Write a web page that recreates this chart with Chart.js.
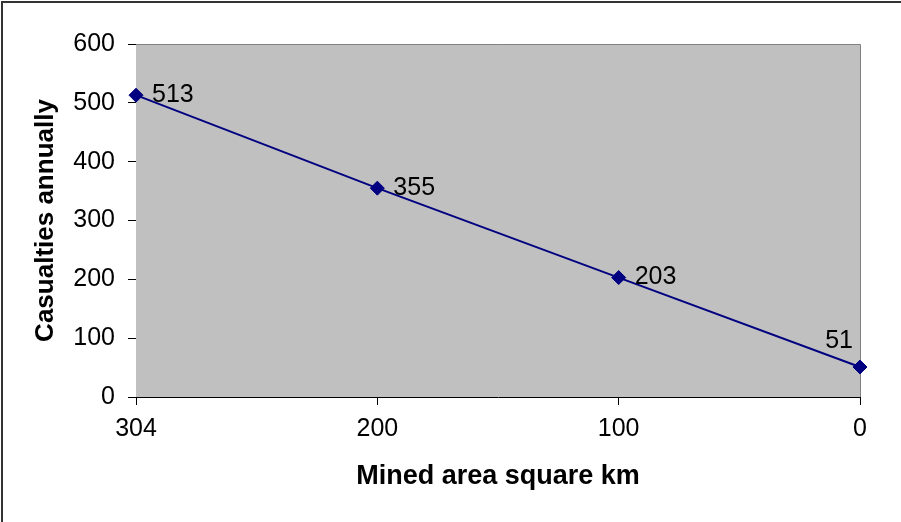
<!DOCTYPE html>
<html>
<head>
<meta charset="utf-8">
<script src="https://cdn.jsdelivr.net/npm/chart.js@4"></script>
<style>
  body { margin: 0; background: #fff; }
  #wrap { width: 901px; height: 522px; position: relative; }
</style>
</head>
<body>
<div id="wrap"><canvas id="chart" width="901" height="522"></canvas></div>
<script>
let areaLabels = ["304", "200", "100", "0"];
let casualties = [513, 355, 203, 51];
let yTicks = [0, 100, 200, 300, 400, 500, 600];

let navy = "#000080";
let plotGrey = "#C0C0C0";
let fontFamily = "'Liberation Sans', Arial, sans-serif";

// grey plot area + gray right edge + outer frame
let plotBackground = {
    id: "plotBackground",
    beforeDatasetsDraw(chart) {
        let ctx = chart.ctx;
        let a = chart.chartArea;
        ctx.save();
        ctx.fillStyle = plotGrey;
        ctx.fillRect(a.left, a.top, a.right - a.left, a.bottom - a.top);
        ctx.strokeStyle = "#808080";
        ctx.lineWidth = 1;
        ctx.beginPath();
        ctx.moveTo(a.left, a.top + 0.5);
        ctx.lineTo(a.right + 0.5, a.top + 0.5);
        ctx.lineTo(a.right + 0.5, a.bottom);
        ctx.stroke();
        ctx.restore();
    },
    afterDraw(chart) {
        let ctx = chart.ctx;
        ctx.save();
        ctx.fillStyle = "#333333";
        ctx.fillRect(1, 1, chart.width, 2);
        ctx.fillRect(1, 1, 2, chart.height);
        ctx.restore();
    }
};

// value labels next to each point
let valueLabels = {
    id: "valueLabels",
    afterDatasetsDraw(chart) {
        let ctx = chart.ctx;
        let meta = chart.getDatasetMeta(0);
        ctx.save();
        ctx.font = "25px " + fontFamily;
        ctx.fillStyle = "#000";
        ctx.textBaseline = "middle";
        meta.data.forEach((pt, i) => {
            let text = String(casualties[i]);
            if (i == meta.data.length - 1) {
                ctx.textAlign = "right";
                ctx.fillText(text, pt.x - 7, pt.y - 26);
            } else {
                ctx.textAlign = "left";
                ctx.fillText(text, pt.x + 16, pt.y);
            }
        });
        ctx.restore();
    }
};

new Chart(document.getElementById("chart"), {
    type: "line",
    data: {
        labels: areaLabels,
        datasets: [{
            label: "Casualties",
            data: casualties,
            borderColor: navy,
            backgroundColor: navy,
            borderWidth: 2,
            pointStyle: "rectRot",
            pointRadius: 7,
            pointBorderWidth: 1,
            pointBackgroundColor: navy,
            pointBorderColor: navy,
            tension: 0
        }]
    },
    options: {
        responsive: false,
        animation: false,
        devicePixelRatio: 1,
        layout: { padding: { top: 44, right: 41, left: 0, bottom: 0 } },
        plugins: {
            legend: { display: false },
            tooltip: { enabled: false }
        },
        scales: {
            x: {
                offset: false,
                grid: { drawOnChartArea: false, color: "#000", tickLength: 8 },
                border: { color: "#000", width: 1 },
                ticks: { color: "#000", padding: 9, maxRotation: 0, font: { size: 25, family: fontFamily } },
                title: {
                    display: true,
                    text: "Mined area square km",
                    color: "#000",
                    font: { size: 27, weight: "bold", family: fontFamily },
                    padding: { top: 0, bottom: 29 }
                },
                afterFit(scale) { scale.height = 125; }
            },
            y: {
                min: 0,
                max: 600,
                afterBuildTicks(scale) { scale.ticks = yTicks.map(v => ({ value: v })); },
                grid: { drawOnChartArea: false, color: "#000", tickLength: 8 },
                border: { color: "#000", width: 1 },
                ticks: { color: "#000", padding: 13, font: { size: 25, family: fontFamily } },
                title: {
                    display: true,
                    text: "Casualties annually",
                    color: "#000",
                    font: { size: 26, weight: "bold", family: fontFamily },
                    padding: { top: 30, bottom: 0 }
                },
                afterFit(scale) { scale.width = 136; }
            }
        }
    },
    plugins: [plotBackground, valueLabels]
});
</script>
</body>
</html>
